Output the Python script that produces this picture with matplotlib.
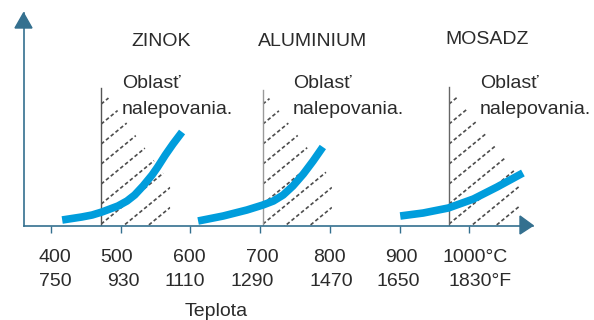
import matplotlib
matplotlib.use('Agg')
import numpy as np
import matplotlib.pyplot as plt
from matplotlib.patches import Polygon

plt.rcParams['font.family'] = ['Liberation Sans', 'DejaVu Sans']

# --- data ---
ticks_c = [400, 500, 600, 700, 800, 900, 1000]
labels_c = ['400', '500', '600', '700', '800', '900', '1000°C']
labels_f = ['750', '930', '1110', '1290', '1470', '1650', '1830°F']

metals = ['ZINOK', 'ALUMINIUM', 'MOSADZ']
zinok_t = [416, 444, 459, 473, 496, 509, 520, 532, 545, 553, 564, 575, 588]
zinok_v = [6, 9, 11, 14, 20, 25, 31, 40, 51, 59, 71, 82, 94]
alu_t = [611, 647, 664, 681, 704, 719, 733, 747, 762, 776, 790]
alu_v = [5, 10, 13, 16, 21, 25, 31, 40, 52, 65, 79]
mosadz_t = [901, 934, 970, 1006, 1040, 1077]
mosadz_v = [10, 13, 18, 27, 39, 53]

# sticking zone: start temp, end temp, top at start, top at end
zone_start = [472, 704, 971]
zone_end = [571, 803, 1073]
zone_top_l = [138, 136, 139]
zone_top_r = [43, 46, 48]

W, H = 594, 320
def fx(x):
    return x / W
def fy(y):
    return 1 - y / H

axc = '#34708f'
txt = '#2b2b2b'
blue = '#009ddc'

fig = plt.figure(figsize=(W / 100, H / 100), dpi=100)
ax = fig.add_axes([fx(23.5), fy(226), fx(533) - fx(23.5), fy(13) - fy(226)])
ax.set_xlim(360.5, 1091.5)
ax.set_ylim(0, 213)
for s in ['top', 'right']:
    ax.spines[s].set_visible(False)
for s in ['left', 'bottom']:
    ax.spines[s].set_color(axc)
    ax.spines[s].set_linewidth(1.2)
ax.set_yticks([])
ax.set_xticks(ticks_c)
ax.set_xticklabels([])
ax.tick_params(axis='x', direction='out', length=5, width=1, color=axc)

# hatched zones
cpx = 100 / 69.7  # degC per pixel
slope = 0.82 / cpx
gap = 20
vcols = ['#555555', '#9a9a9a', '#666666']
for x0, x1, t0, t1, vc in zip(zone_start, zone_end, zone_top_l, zone_top_r, vcols):
    clip = Polygon([(x0, 0), (x0, t0), (x1, t1), (x1, 0)], closed=True,
                   transform=ax.transData, facecolor='none', edgecolor='none')
    ax.add_patch(clip)
    for k in range(-8, 10):
        b = k * gap + 2
        xs = np.array([x0, x1])
        ys = b + slope * (xs - x0)
        ln, = ax.plot(xs, ys, color='#4d4d4d', lw=1.2, dashes=(2.2, 1.5))
        ln.set_clip_path(clip)
    ax.plot([x0, x0], [0, t0], color=vc, lw=1.0)

# curves
for t, v in [(zinok_t, zinok_v), (alu_t, alu_v), (mosadz_t, mosadz_v)]:
    ax.plot(t, v, color=blue, lw=5.5, solid_capstyle='butt', solid_joinstyle='round')

# arrowheads
fig.patches.append(Polygon([(fx(15), fy(28)), (fx(32), fy(28)), (fx(23.5), fy(13))],
                           closed=True, transform=fig.transFigure, color=axc))
fig.patches.append(Polygon([(fx(520), fy(216)), (fx(520), fy(234)), (fx(533), fy(225.5))],
                           closed=True, transform=fig.transFigure, color=axc))

# tick labels
row1_x = [55, 117, 189, 262, 329, 401, 475]
row2_x = [55, 123, 185, 252, 331, 398, 480]
for x, s in zip(row1_x, labels_c):
    fig.text(fx(x), fy(257), s, ha='center', va='center', fontsize=14, color=txt)
for x, s in zip(row2_x, labels_f):
    fig.text(fx(x), fy(282), s, ha='center', va='center', fontsize=14, color=txt)
fig.text(fx(216), fy(311), 'Teplota', ha='center', va='center', fontsize=14, color=txt)

# metal names and zone notes
name_xy = [(161, 42), (313, 41), (487, 40)]
for (x, y), s in zip(name_xy, metals):
    fig.text(fx(x), fy(y), s, ha='center', va='center', fontsize=14, color=txt)
note_x = [122, 293, 480]
for x in note_x:
    fig.text(fx(x), fy(83), 'Oblasť', ha='left', va='center', fontsize=14, color=txt)
    fig.text(fx(x), fy(110), 'nalepovania.', ha='left', va='center', fontsize=14, color=txt)

fig.savefig('out.png', dpi=100)
